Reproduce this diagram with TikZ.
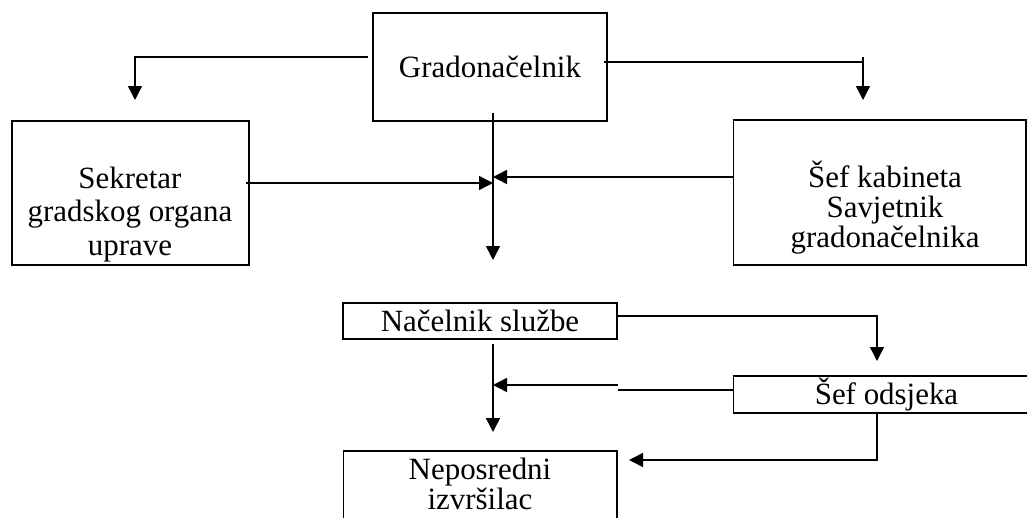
\documentclass[tikz,border=0pt]{standalone}
\usepackage{fontspec}
\setmainfont{Liberation Serif}
\usetikzlibrary{arrows.meta,calc}
\tikzset{
  box/.style={draw, inner sep=0pt, line width=0.6pt},
  boldbox/.style={box, line width=1.1pt},
  txt/.style={align=center, inner sep=0pt, font=\fontsize{17.6}{17}\selectfont},
  conn/.style={-{Triangle[length=2.8mm,width=2.8mm]}, line width=0.85pt},
}

\begin{document}
\begin{tikzpicture}[x=0.02cm, y=-0.02cm]
	%%%%% START %%%%%
	
	\useasboundingbox (0,0) rectangle (1027,517);
	\clip (0,0) rectangle (1027,517);
	
	\node[boldbox, txt, minimum width=4.68cm, minimum height=2.16cm] (mayor) at (490,67) {Gradonačelnik};
	
	\node[box, minimum width=4.74cm, minimum height=2.88cm] (sekretar) at (130.5,193) {};
	\node[txt, anchor=base, font=\fontsize{17.6}{19}\selectfont] (sekText) at (130,255) {Sekretar\\gradskog organa\\uprave};
	
	\node[box, minimum width=5.86cm, minimum height=2.9cm] (kabinet) at (879.5,192.5) {};
	\node[txt, anchor=base] (kabText) at (885,247) {Šef kabineta\\Savjetnik\\gradonačelnika};
	
	\node[boldbox, txt, minimum width=5.48cm, minimum height=0.72cm] (nacelnik) at (480,321) {Načelnik službe};
	\node[box, txt, minimum width=6.14cm, minimum height=0.74cm] (odsjek) at (886.5,394.5) {Šef odsjeka};
	
	\node[box, minimum width=5.48cm, minimum height=1.78cm] (neposredni) at (480,495.5) {};
	\node[txt, anchor=base] (nepText) at (480,509) {Neposredni\\izvršilac};
	
	\coordinate (toSek) at (135,100);
	\coordinate (kabCorner) at (863,62);
	\coordinate (toKab) at (863,100);
	\coordinate (toNac) at (493,260);
	\coordinate (toOds) at (877,361);
	\coordinate (toNep) at (493,432);
	\coordinate (toNepSide) at (629,460);
	
	% top level
	\draw[conn] ($(mayor.west)+(-4,-10)$) -| (toSek);
	\draw[line width=0.85pt] ($(mayor.east)+(-4,-5)$) -- (kabCorner);
	\draw[conn] ($(kabCorner)+(0,-5)$) -- (toKab);
	\draw[conn] ($(mayor.south)+(3,-9)$) -- (toNac);
	\draw[conn] ($(sekretar.east)+(-4,-10)$) coordinate (s0) -- (s0 -| toNac);
	\draw[conn] ($(kabinet.west)+(0,-15.5)$) coordinate (k0) -- (k0 -| toNac);
	
	% lower level
	\draw[conn] ($(nacelnik.east)+(0,-5)$) -| (toOds);
	\draw[conn] ($(nacelnik.south)+(13,4)$) -- (toNep);
	\draw[conn] ($(odsjek.west)+(0,-4.5)$) coordinate (o0) -- (o0 -| nacelnik.east) ++(0,-5) coordinate (o1) -- (o1 -| toNep);
	\draw[conn] ($(odsjek.south)+(-9.5,0)$) |- (toNepSide);
	
	%%%%% END %%%%%
\end{tikzpicture}
\end{document}
